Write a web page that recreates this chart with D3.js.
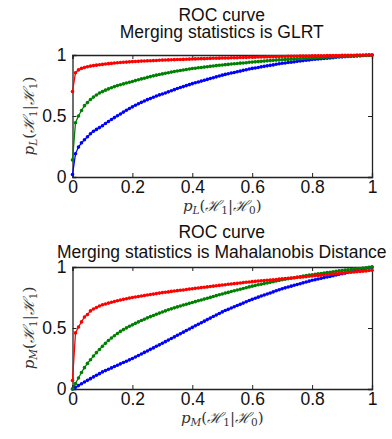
<!DOCTYPE html>
<html>
<head>
<meta charset="utf-8">
<script src="https://cdn.jsdelivr.net/npm/d3@7"></script>
<style>
body { margin: 0; background: #fff; }
svg text { font-family: "Liberation Sans", Arial, sans-serif; }
.lab { font-family: "DejaVu Serif", serif; font-style: italic; fill: #333; }
</style>
</head>
<body>
<div id="chart"></div>
<script>
// false alarm rate grid (x) shared by every curve
var fpr = [0,0.01,0.02,0.03,0.04,0.05,0.06,0.07,0.08,0.09,
  0.10,0.11,0.12,0.13,0.14,0.15,0.16,0.17,0.18,0.19,
  0.20,0.21,0.22,0.23,0.24,0.25,0.26,0.27,0.28,0.29,
  0.30,0.31,0.32,0.33,0.34,0.35,0.36,0.37,0.38,0.39,
  0.40,0.41,0.42,0.43,0.44,0.45,0.46,0.47,0.48,0.49,
  0.50,0.51,0.52,0.53,0.54,0.55,0.56,0.57,0.58,0.59,
  0.60,0.61,0.62,0.63,0.64,0.65,0.66,0.67,0.68,0.69,
  0.70,0.71,0.72,0.73,0.74,0.75,0.76,0.77,0.78,0.79,
  0.80,0.81,0.82,0.83,0.84,0.85,0.86,0.87,0.88,0.89,
  0.90,0.91,0.92,0.93,0.94,0.95,0.96,0.97,0.98,0.99,1];

// GLRT panel
var glrtBlue = [0.02,0.19,0.245,0.28,0.305,0.33,0.355,0.375,0.39,0.405,
  0.42,0.438,0.455,0.471,0.487,0.502,0.517,0.532,0.547,0.561,
  0.575,0.588,0.6,0.612,0.623,0.634,0.644,0.654,0.664,0.673,
  0.68,0.689,0.698,0.707,0.716,0.725,0.733,0.741,0.749,0.757,
  0.765,0.772,0.779,0.786,0.793,0.8,0.807,0.814,0.821,0.828,
  0.835,0.841,0.846,0.852,0.857,0.863,0.868,0.874,0.879,0.885,
  0.89,0.894,0.898,0.903,0.907,0.911,0.915,0.919,0.924,0.928,
  0.932,0.935,0.938,0.941,0.944,0.948,0.951,0.954,0.957,0.96,
  0.963,0.965,0.967,0.97,0.972,0.974,0.976,0.978,0.981,0.983,
  0.985,0.987,0.988,0.99,0.991,0.993,0.994,0.996,0.997,0.999,1];
var glrtGreen = [0.14,0.445,0.5,0.545,0.585,0.61,0.635,0.655,0.672,0.688,
  0.7,0.712,0.722,0.732,0.741,0.749,0.756,0.763,0.77,0.777,
  0.783,0.79,0.797,0.804,0.81,0.817,0.823,0.829,0.835,0.84,
  0.845,0.85,0.855,0.86,0.865,0.869,0.873,0.877,0.881,0.885,
  0.889,0.892,0.895,0.898,0.901,0.904,0.907,0.91,0.913,0.916,
  0.918,0.921,0.923,0.926,0.928,0.93,0.933,0.935,0.937,0.94,
  0.942,0.944,0.946,0.948,0.95,0.952,0.954,0.956,0.958,0.96,
  0.961,0.963,0.964,0.966,0.967,0.969,0.97,0.972,0.973,0.975,
  0.976,0.977,0.979,0.98,0.981,0.982,0.983,0.984,0.985,0.987,
  0.988,0.989,0.99,0.991,0.992,0.993,0.994,0.996,0.997,0.998,1];
var glrtRed = [0.7,0.855,0.878,0.89,0.898,0.904,0.909,0.913,0.917,0.92,
  0.923,0.926,0.929,0.931,0.934,0.936,0.938,0.94,0.942,0.944,
  0.946,0.947,0.948,0.95,0.951,0.952,0.953,0.954,0.955,0.957,
  0.958,0.959,0.96,0.961,0.962,0.963,0.963,0.964,0.965,0.966,
  0.967,0.968,0.969,0.97,0.97,0.971,0.972,0.973,0.973,0.974,
  0.975,0.976,0.976,0.977,0.978,0.978,0.979,0.98,0.98,0.981,
  0.982,0.982,0.983,0.983,0.984,0.985,0.985,0.986,0.986,0.987,
  0.988,0.988,0.989,0.989,0.99,0.99,0.991,0.991,0.992,0.992,
  0.993,0.993,0.994,0.994,0.994,0.995,0.995,0.996,0.996,0.996,
  0.997,0.997,0.998,0.998,0.998,0.999,0.999,0.999,1,1,1];

// Mahalanobis panel
var mahaBlue = [0,0.014,0.028,0.043,0.057,0.071,0.085,0.099,0.113,0.126,
  0.14,0.151,0.162,0.173,0.184,0.195,0.206,0.217,0.228,0.239,
  0.25,0.262,0.275,0.287,0.3,0.312,0.325,0.337,0.35,0.362,
  0.375,0.388,0.401,0.414,0.427,0.44,0.453,0.466,0.479,0.492,
  0.505,0.518,0.531,0.543,0.556,0.569,0.581,0.594,0.607,0.619,
  0.632,0.643,0.653,0.664,0.674,0.684,0.694,0.704,0.715,0.725,
  0.735,0.744,0.753,0.762,0.77,0.779,0.787,0.796,0.805,0.813,
  0.822,0.829,0.836,0.843,0.85,0.857,0.863,0.87,0.877,0.884,
  0.891,0.896,0.902,0.907,0.913,0.918,0.923,0.929,0.934,0.94,
  0.945,0.95,0.956,0.961,0.967,0.972,0.978,0.983,0.989,0.994,1];
var mahaGreen = [0,0.045,0.09,0.135,0.175,0.21,0.24,0.27,0.298,0.324,
  0.35,0.374,0.397,0.418,0.437,0.455,0.472,0.487,0.501,0.514,
  0.526,0.538,0.55,0.561,0.572,0.583,0.593,0.603,0.613,0.622,
  0.631,0.64,0.649,0.657,0.665,0.673,0.68,0.688,0.695,0.702,
  0.709,0.716,0.723,0.73,0.737,0.744,0.751,0.758,0.765,0.772,
  0.779,0.786,0.792,0.799,0.805,0.811,0.818,0.824,0.83,0.837,
  0.843,0.848,0.854,0.859,0.864,0.869,0.874,0.879,0.885,0.89,
  0.895,0.899,0.904,0.908,0.912,0.916,0.92,0.925,0.929,0.933,
  0.937,0.94,0.944,0.947,0.951,0.954,0.957,0.961,0.964,0.968,
  0.971,0.974,0.977,0.98,0.983,0.986,0.988,0.991,0.994,0.997,1];
var mahaRed = [0.07,0.46,0.508,0.55,0.59,0.61,0.64,0.656,0.668,0.68,
  0.69,0.697,0.704,0.711,0.717,0.723,0.729,0.735,0.74,0.745,
  0.75,0.754,0.758,0.762,0.766,0.77,0.774,0.778,0.782,0.786,
  0.79,0.793,0.796,0.8,0.803,0.806,0.809,0.812,0.816,0.819,
  0.822,0.825,0.828,0.831,0.834,0.837,0.84,0.843,0.846,0.849,
  0.852,0.855,0.858,0.861,0.864,0.866,0.869,0.872,0.875,0.877,
  0.88,0.882,0.885,0.887,0.889,0.892,0.894,0.896,0.898,0.901,
  0.903,0.905,0.908,0.91,0.912,0.915,0.917,0.919,0.921,0.924,
  0.926,0.928,0.931,0.933,0.936,0.938,0.94,0.943,0.945,0.948,
  0.95,0.952,0.955,0.957,0.959,0.962,0.964,0.966,0.968,0.971,0.973];

var xTicks = [0, 0.2, 0.4, 0.6, 0.8, 1];
var xTickLabels = ["0", "0.2", "0.4", "0.6", "0.8", "1"];
var yTicks = [0, 0.5, 1];
var yTickLabels = ["0", "0.5", "1"];
var seriesColors = ["#0000ff", "#008000", "#ff0000"];

var svg = d3.select("#chart").append("svg")
    .attr("width", 392)
    .attr("height", 439);

// one ROC panel: box, ticks, curves, titles and labels
function drawPanel(opts){
  var left = 72.5, width = 299.5, height = 122;
  var x = d3.scaleLinear().domain([0, 1]).range([0, width]);
  var y = d3.scaleLinear().domain([0, 1]).range([height, 0]);

  var g = svg.append("g")
      .attr("transform", "translate(" + left + "," + opts.top + ")");

  // titles
  opts.titles.forEach(function(t, i){
    svg.append("text")
        .attr("x", left + width / 2 - 0.5)
        .attr("y", opts.titleY[i])
        .attr("text-anchor", "middle")
        .attr("font-size", 17.5)
        .attr("fill", "#111")
        .text(t);
  });

  var tick = 4;

  // axes, inner ticks on all four sides (matlab box)
  g.append("g")
      .attr("transform", "translate(0," + height + ")")
      .call(d3.axisBottom(x).tickValues(xTicks).tickSize(-tick).tickFormat(function(d, i){ return xTickLabels[i]; }).tickPadding(3.5));
  g.append("g")
      .call(d3.axisTop(x).tickValues(xTicks).tickSize(-tick).tickFormat(""));
  g.append("g")
      .call(d3.axisLeft(y).tickValues(yTicks).tickSize(-tick).tickFormat(function(d, i){ return yTickLabels[i]; }).tickPadding(6));
  g.append("g")
      .attr("transform", "translate(" + width + ",0)")
      .call(d3.axisRight(y).tickValues(yTicks).tickSize(-tick).tickFormat(""));

  g.selectAll(".domain").attr("stroke", "#222").attr("stroke-width", 1.3);
  g.selectAll(".tick line").attr("stroke", "#222");
  g.selectAll(".tick text").attr("font-size", 17.5).attr("fill", "#111")
      .attr("font-family", "'Liberation Sans', Arial, sans-serif");

  var line = d3.line()
      .x(function(d, i){ return x(fpr[i]); })
      .y(function(d){ return y(d); });

  opts.series.forEach(function(s, k){
    var c = seriesColors[k];
    g.append("path")
        .datum(s)
        .attr("fill", "none")
        .attr("stroke", c)
        .attr("stroke-width", 1.3)
        .attr("d", line);
    g.append("g").selectAll("circle")
        .data(s)
        .enter().append("circle")
        .attr("cx", function(d, i){ return x(fpr[i]); })
        .attr("cy", function(d){ return y(d); })
        .attr("r", 1.8)
        .attr("fill", c);
  });

  // x label  p_S(H1|H0)
  var xl = svg.append("text")
      .attr("class", "lab")
      .attr("x", left + width / 2)
      .attr("y", opts.top + height + 34)
      .attr("text-anchor", "middle")
      .attr("font-size", 15);
  mathLabel(xl, opts.sub, "0");

  // y label  p_S(H1|H1)
  var yl = svg.append("text")
      .attr("class", "lab")
      .attr("transform", "translate(34," + (opts.top + height / 2) + ") rotate(-90)")
      .attr("text-anchor", "middle")
      .attr("font-size", 15);
  mathLabel(yl, opts.sub, "1");
}

function mathLabel(t, sub, cond){
  t.append("tspan").text("p");
  t.append("tspan").attr("font-size", 10.5).attr("dy", 3).text(sub);
  t.append("tspan").attr("dy", -3).attr("font-style", "normal").text("(");
  t.append("tspan").text("\u210B");
  t.append("tspan").attr("font-size", 10.5).attr("dy", 3).attr("font-style", "normal").text("1");
  t.append("tspan").attr("dy", -3).attr("font-style", "normal").text("|");
  t.append("tspan").text("\u210B");
  t.append("tspan").attr("font-size", 10.5).attr("dy", 3).attr("font-style", "normal").text(cond);
  t.append("tspan").attr("dy", -3).attr("font-style", "normal").text(")");
}

drawPanel({
  top: 55,
  titles: ["ROC curve", "Merging statistics is GLRT"],
  titleY: [21, 37.5],
  sub: "L",
  series: [glrtBlue, glrtGreen, glrtRed]
});

drawPanel({
  top: 267,
  titles: ["ROC curve", "Merging statistics is Mahalanobis Distance"],
  titleY: [238, 257.5],
  sub: "M",
  series: [mahaBlue, mahaGreen, mahaRed]
});
</script>
</body>
</html>
